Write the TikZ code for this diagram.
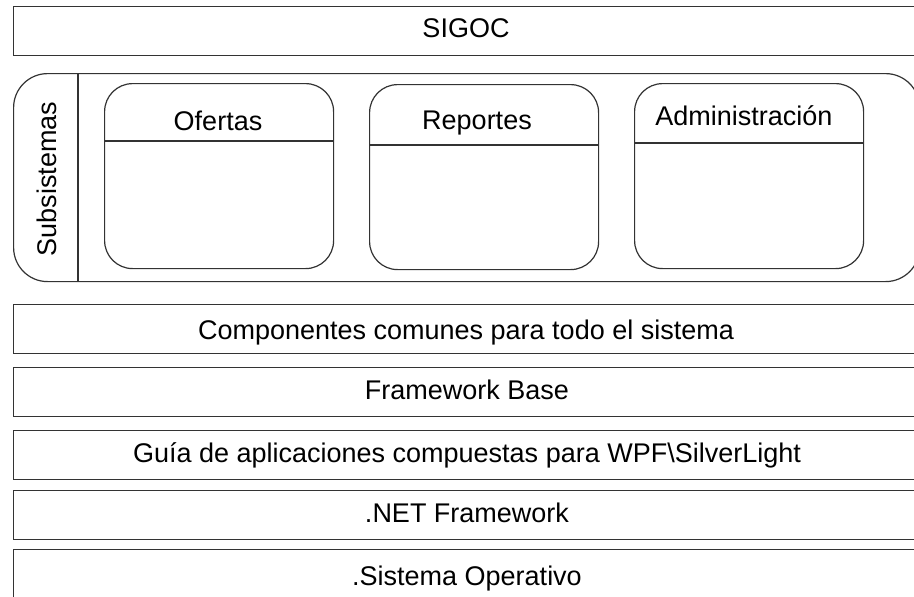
\documentclass[tikz,border=0pt]{standalone}
\usepackage{fontspec}
\setmainfont{Liberation Sans}
\begin{document}
\begin{tikzpicture}[x=1pt,y=-1pt,
  line width=1.2pt,
  edge/.style={draw=black!80},
  layer/.style={edge, rectangle, minimum width=906pt, minimum height=49pt, inner sep=0pt, anchor=north west},
  lane/.style={edge, rectangle, rounded corners=28pt, minimum width=229pt, minimum height=185pt, inner sep=0pt, anchor=north west},
  txt/.style={font=\fontsize{27}{30}\selectfont, anchor=base, inner sep=0pt, text=black}]
\useasboundingbox (0,0) rectangle (914,597);
\clip (0,0) rectangle (914,597);
% top title layer
\node[layer] (sigoc) at (13,6) {};
\node[txt] (tsigoc) at (466,37) {SIGOC};
% subsystems container
\node[edge, rectangle, rounded corners=34pt, minimum width=906pt, minimum height=208pt, inner sep=0pt, anchor=north west] (sub) at (13,73) {};
\coordinate (dtop) at (78,73);
\coordinate (dbot) at (78,281);
\draw[edge] (dtop) -- (dbot);
\node[txt, anchor=center, rotate=90] (tsub) at (47,179) {Subsistemas};
% lanes
\node[lane] (ofe) at (104,83) {};
\node[lane] (rep) at (369,84) {};
\node[lane] (adm) at (634,83) {};
\coordinate (ofeL) at (104,141);
\coordinate (ofeR) at (333,141);
\coordinate (repL) at (369,145);
\coordinate (repR) at (598,145);
\coordinate (admL) at (634,143);
\coordinate (admR) at (863,143);
\draw[edge] (ofeL) -- (ofeR);
\draw[edge] (repL) -- (repR);
\draw[edge] (admL) -- (admR);
\node[txt] (tofe) at (218,130) {Ofertas};
\node[txt] (trep) at (477,129) {Reportes};
\node[txt] (tadm) at (744,125) {Administración};
% lower layers
\node[layer] (comp) at (13,304) {};
\node[txt] (tcomp) at (466,339) {Componentes comunes para todo el sistema};
\node[layer] (fwb) at (13,367) {};
\node[txt] (tfwb) at (467,399) {Framework Base};
\node[layer] (guia) at (13,430) {};
\node[txt] (tguia) at (467,462) {Guía de aplicaciones compuestas para WPF\textbackslash SilverLight};
\node[layer] (net) at (13,490) {};
\node[txt] (tnet) at (467,522) {.NET Framework};
\node[layer, minimum height=60pt] (so) at (13,549) {};
\node[txt] (tso) at (467,585) {.Sistema Operativo};
\end{tikzpicture}
\end{document}
